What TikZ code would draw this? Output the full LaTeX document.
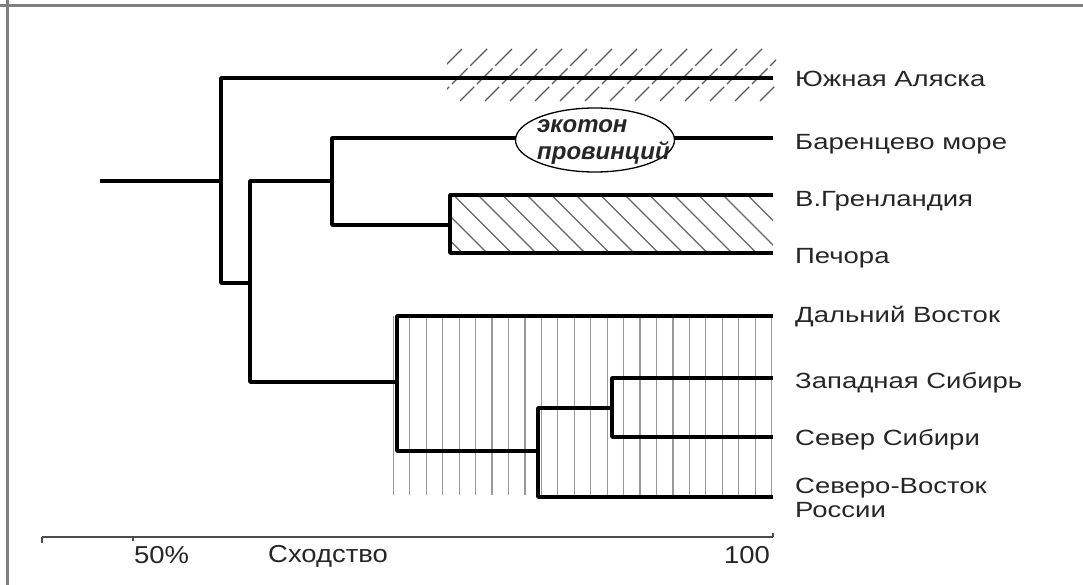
\documentclass[tikz,border=0pt]{standalone}
\usepackage{fontspec}
\setmainfont{Liberation Sans}
\usetikzlibrary{shapes.geometric}
\newcommand\wx[1]{\scalebox{1.25}[1]{#1}}
\newcommand\wb[1]{\scalebox{1.12}[1]{#1}}
\begin{document}
\begin{tikzpicture}[x=1pt,y=-1pt,
  br/.style={line width=3.6pt, black, line join=round},
  leaf/.style={anchor=base west, inner sep=0pt, text=black!85, font=\fontsize{22}{24}\selectfont},
  axlab/.style={inner sep=0pt, text=black!85, font=\fontsize{24.5}{28}\selectfont},
  hatch/.style={line width=1.3pt, black!65},
  vhatch/.style={line width=1.2pt, black!40},
  frame/.style={line width=3pt, black!50}]
\fill[white] (0,0) rectangle (1083,585);
\useasboundingbox (0,0) rectangle (1083,585);
\draw[frame] (0,6) -- (1083,6);
\draw[frame] (7,0) -- (7,585);

% coordinates
\coordinate (r) at (100,181);
\coordinate (n1) at (221,181);
\coordinate (n1t) at (221,78);
\coordinate (n1b) at (221,283);
\coordinate (n2m) at (250,283);
\coordinate (n2t) at (250,181);
\coordinate (n2b) at (250,382);
\coordinate (n3) at (332,181);
\coordinate (n3t) at (332,138);
\coordinate (n3b) at (332,225);
\coordinate (n4) at (450,225);
\coordinate (n4t) at (450,195);
\coordinate (n4b) at (450,253);
\coordinate (n5) at (397,382);
\coordinate (n5t) at (397,316);
\coordinate (n5b) at (397,451);
\coordinate (n6) at (538,451);
\coordinate (n6t) at (538,408);
\coordinate (n6b) at (538,497);
\coordinate (n7) at (612,408);
\coordinate (n7t) at (612,378);
\coordinate (n7b) at (612,437);
\coordinate (eA) at (773,78);
\coordinate (eB) at (773,138);
\coordinate (eC) at (773,195);
\coordinate (eD) at (773,253);
\coordinate (eE) at (773,316);
\coordinate (eF) at (773,378);
\coordinate (eG) at (773,437);
\coordinate (eH) at (773,497);

% hatching: Alaska band
\begin{scope}
\clip (447,49) rectangle (776,102);
\foreach \k in {0,...,14}
  \draw[hatch, dash pattern=on 20pt off 4pt on 22pt off 4pt on 40pt] ({410+25*\k},101) -- ({462+25*\k},49);
\end{scope}
% hatching: Greenland / Pechora
\begin{scope}
\clip (450,195) rectangle (773,253);
\foreach \k in {-3,...,13}
  \draw[hatch, line width=1.2pt, black!60] ({478+24.5*\k},195) -- ({536+24.5*\k},253);
\end{scope}
% vertical hatching of the Siberian cluster
\foreach \i in {0,...,23}
  \draw[vhatch] ({393.3+16.45*\i},316) -- ({393.3+16.45*\i},495);

% dendrogram
\draw[br] (r) -- (n1);
\draw[br] (eA) -- (n1t) -- (n1b) -- (n2m);
\draw[br] (n3) -- (n2t) -- (n2b) -- (n5);
\draw[br] (eB) -- (n3t) -- (n3b) -- (n4);
\draw[br] (eC) -- (n4t) -- (n4b) -- (eD);
\draw[br] (eE) -- (n5t) -- (n5b) -- (n6);
\draw[br] (n7) -- (n6t) -- (n6b) -- (eH);
\draw[br] (eF) -- (n7t) -- (n7b) -- (eG);

% ecotone ellipse
\node[draw, ellipse, fill=white, line width=1.3pt, minimum width=159pt, minimum height=64pt, inner sep=0pt] (eco) at (595,140) {};
\node[anchor=base west, inner sep=0pt, font=\bfseries\itshape\fontsize{24}{26}\selectfont, text=black!85] (eco1) at (537,133) {экотон};
\node[anchor=base west, inner sep=0pt, font=\bfseries\itshape\fontsize{24}{26}\selectfont, text=black!85] (eco2) at (537,160) {провинций};

% leaf labels
\node[leaf] (lA) at (795,87) {\wx{Южная Аляска}};
\node[leaf] (lB) at (795,150) {\wx{Баренцево море}};
\node[leaf] (lC) at (795,207) {\wx{В.Гренландия}};
\node[leaf] (lD) at (795,263) {\wx{Печора}};
\node[leaf] (lE) at (795,322) {\wx{Дальний Восток}};
\node[leaf] (lF) at (795,388) {\wx{Западная Сибирь}};
\node[leaf] (lG) at (795,445) {\wx{Север Сибири}};
\node[leaf] (lH1) at (795,493) {\wx{Северо-Восток}};
\node[leaf] (lH2) at (795,517) {\wx{России}};

% axis
\coordinate (a0) at (42,537);
\coordinate (a1) at (773,537);
\coordinate (a50) at (133,537);
\draw[line width=1.8pt, black!70] (a0) -- (a1);
\draw[line width=1.5pt, black!70] (a0) -- ++(0,6);
\draw[line width=1.5pt, black!70] (a50) -- ++(0,4);
\draw[line width=1.5pt, black!70] (a1) -- ++(0,-4);
\node[axlab, anchor=base west] (t50) at (134,563) {\wb{50\%}};
\node[axlab, anchor=base west] (tsim) at (268,562) {\wb{Сходство}};
\node[axlab, anchor=base east] (t100) at (770,563) {\wb{100}};
\end{tikzpicture}
\end{document}
